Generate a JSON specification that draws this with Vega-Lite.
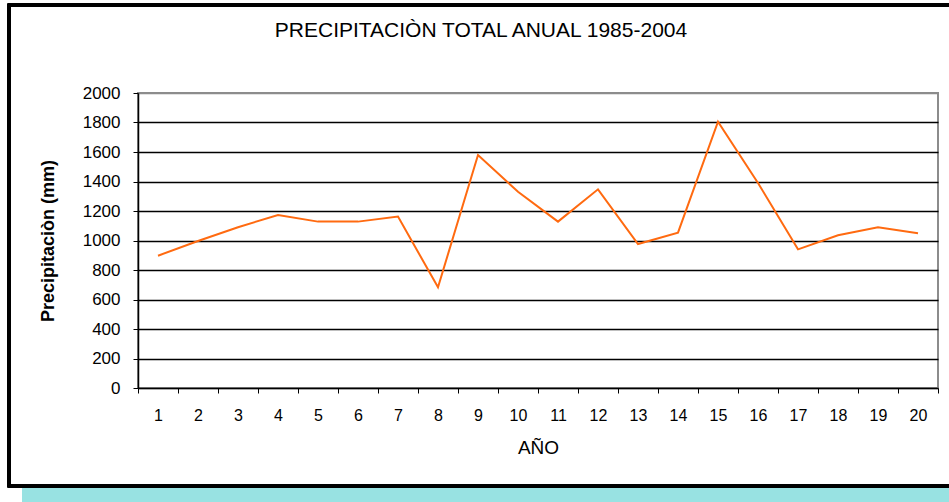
{
  "$schema": "https://vega.github.io/schema/vega-lite/v6.json",
  "width": 800,
  "height": 295,
  "autosize": {"type": "none"},
  "padding": {"left": 138, "top": 93, "right": 11, "bottom": 114},
  "background": "white",
  "title": {
    "text": "PRECIPITACIÒN TOTAL ANUAL 1985-2004",
    "font": "Liberation Sans",
    "fontSize": 21,
    "fontWeight": "normal",
    "color": "black",
    "anchor": "middle",
    "frame": "group",
    "dx": -57,
    "offset": -37
  },
  "config": {
    "view": {"stroke": "#8c8c8c", "strokeWidth": 2},
    "font": "Liberation Sans"
  },
  "data": {
    "values": [
      {"anio": 1, "prec": 897},
      {"anio": 2, "prec": 997},
      {"anio": 3, "prec": 1090},
      {"anio": 4, "prec": 1173},
      {"anio": 5, "prec": 1128},
      {"anio": 6, "prec": 1128},
      {"anio": 7, "prec": 1162},
      {"anio": 8, "prec": 683},
      {"anio": 9, "prec": 1580},
      {"anio": 10, "prec": 1330},
      {"anio": 11, "prec": 1128},
      {"anio": 12, "prec": 1347},
      {"anio": 13, "prec": 976},
      {"anio": 14, "prec": 1053},
      {"anio": 15, "prec": 1806},
      {"anio": 16, "prec": 1390},
      {"anio": 17, "prec": 940},
      {"anio": 18, "prec": 1035},
      {"anio": 19, "prec": 1089},
      {"anio": 20, "prec": 1049}
    ]
  },
  "layer": [
    {
      "mark": {"type": "rect", "color": "#98e2e2", "clip": false},
      "encoding": {
        "x": {"datum": -116, "type": "quantitative", "scale": {"domain": [0, 800], "nice": false, "zero": false}, "axis": null},
        "x2": {"datum": 830},
        "y": {"datum": -671, "type": "quantitative", "scale": {"domain": [0, 2000], "nice": false, "zero": false}, "axis": null},
        "y2": {"datum": -800}
      }
    },
    {
      "mark": {"type": "rect", "filled": false, "stroke": "black", "strokeWidth": 2.5, "clip": false},
      "encoding": {
        "x": {"datum": -129, "type": "quantitative", "scale": {"domain": [0, 800], "nice": false, "zero": false}, "axis": null},
        "x2": {"datum": 830},
        "y": {"datum": 2597, "type": "quantitative", "scale": {"domain": [0, 2000], "nice": false, "zero": false}, "axis": null},
        "y2": {"datum": -664}
      }
    },
    {
      "mark": {"type": "line", "color": "#ff6a10", "strokeWidth": 2},
      "encoding": {
        "x": {
          "field": "anio",
          "type": "ordinal",
          "scale": {"paddingInner": 0, "paddingOuter": 0},
          "axis": {
            "title": "AÑO",
            "titleFont": "Liberation Sans",
            "titleFontSize": 19,
            "titleFontWeight": "normal",
            "titleColor": "black",
            "titlePadding": 15,
            "labelAngle": 0,
            "labelFont": "Liberation Sans",
            "labelFontSize": 16,
            "labelColor": "black",
            "labelPadding": 14,
            "tickBand": "extent",
            "tickColor": "black",
            "tickSize": 5,
            "domainColor": "black",
            "domainWidth": 1.5,
            "grid": false
          }
        },
        "y": {
          "field": "prec",
          "type": "quantitative",
          "scale": {"domain": [0, 2000], "nice": false, "zero": true},
          "axis": {
            "title": "Precipitaciòn (mm)",
            "titleFont": "Liberation Sans",
            "titleFontSize": 18,
            "titleFontWeight": "bold",
            "titleColor": "black",
            "titlePadding": 25,
            "values": [0, 200, 400, 600, 800, 1000, 1200, 1400, 1600, 1800, 2000],
            "format": "d",
            "labelFont": "Liberation Sans",
            "labelFontSize": 17,
            "labelColor": "black",
            "labelPadding": 13,
            "tickColor": "black",
            "tickSize": 5,
            "domainColor": "black",
            "domainWidth": 1.5,
            "grid": true,
            "gridColor": {"condition": {"test": "datum.value == 2000 || datum.value == 0", "value": "#8c8c8c"}, "value": "black"},
            "gridWidth": 1.5,
            "gridOpacity": 1
          }
        }
      }
    }
  ],
  "resolve": {"scale": {"x": "independent", "y": "independent"}}
}
